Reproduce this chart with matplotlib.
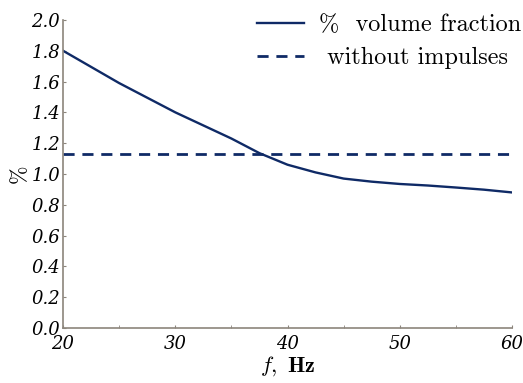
import matplotlib
matplotlib.use("Agg")
import matplotlib.pyplot as plt
from matplotlib.ticker import MultipleLocator, FuncFormatter

plt.rcParams['mathtext.fontset'] = 'cm'

# frequency, Hz
freq = [20, 25, 30, 35, 37.5, 40, 42.5, 45, 47.5, 50, 52.5, 55, 57.5, 60]
# % volume fraction
vol_frac = [1.80, 1.59, 1.40, 1.23, 1.135, 1.06, 1.01, 0.97, 0.95, 0.935, 0.925, 0.912, 0.898, 0.88]
no_impulse = 1.13

labels = ['%  volume fraction', ' without impulses']

fig = plt.figure(figsize=(5.23, 3.83), dpi=100)
ax = fig.add_axes([0.1205, 0.1436, 0.8585, 0.8044])

navy = '#0f2a66'
ax.plot(freq, vol_frac, color=navy, lw=1.7, label=labels[0])
ax.axhline(no_impulse, color=navy, lw=2.0, ls=(0, (4, 2.8)), label=labels[1])

ax.set_xlim(20, 60)
ax.set_ylim(0, 2.0)
ax.xaxis.set_major_locator(MultipleLocator(10))
ax.xaxis.set_minor_locator(MultipleLocator(5))
ax.yaxis.set_major_locator(MultipleLocator(0.2))
ax.xaxis.set_major_formatter(FuncFormatter(lambda v, p: '%d' % v))
ax.yaxis.set_major_formatter(FuncFormatter(lambda v, p: '%.1f' % v))

for s in ['top', 'right']:
    ax.spines[s].set_visible(False)
for s in ['left', 'bottom']:
    ax.spines[s].set_color('#8c857c')
    ax.spines[s].set_linewidth(1.2)
ax.tick_params(which='both', direction='in', length=2.5, color='#8c857c', labelsize=13)
ax.tick_params(axis='x', pad=5)
ax.tick_params(axis='y', pad=2)
for t in ax.get_xticklabels() + ax.get_yticklabels():
    t.set_fontfamily('DejaVu Serif')
    t.set_fontstyle('italic')

ax.set_ylabel('%', fontsize=16, fontfamily='cmr10', labelpad=1)
ax.set_xlabel(r'$f,\ \mathbf{Hz}$', fontsize=16, labelpad=1)

ax.legend(loc='upper right', bbox_to_anchor=(521 / 523, 1 - 14 / 383),
          bbox_transform=fig.transFigure, frameon=False,
          prop={'family': 'cmr10', 'size': 17.5}, handlelength=1.95,
          handletextpad=0.6, labelspacing=0.45, borderpad=0, borderaxespad=0)

fig.savefig('out.png', dpi=100)
